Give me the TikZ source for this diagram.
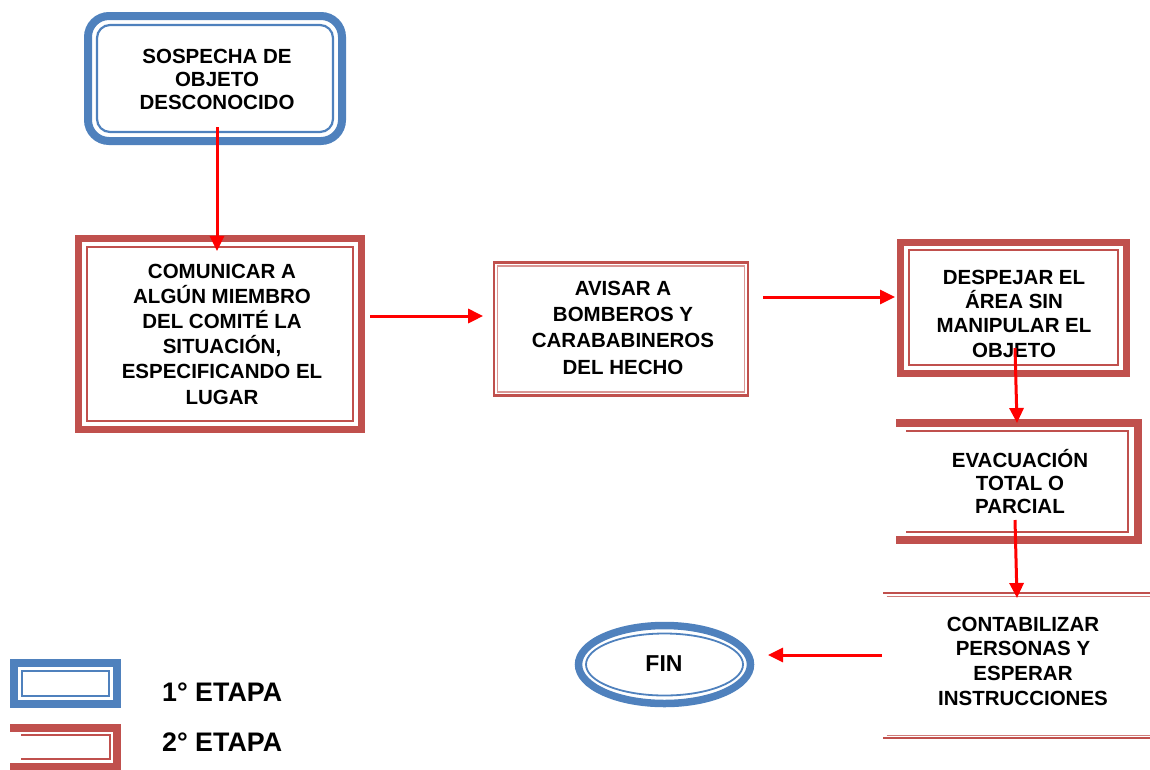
\documentclass[tikz,border=0pt]{standalone}
\usepackage{fontspec}
\setmainfont{Liberation Sans}
\usetikzlibrary{arrows.meta,shapes.geometric}
\definecolor{bblue}{HTML}{4F81BD}
\definecolor{rred}{HTML}{C0504D}
\definecolor{arrred}{HTML}{FF0000}
\tikzset{
  lbl/.style={font=\fontsize{20.5}{#1}\selectfont\bfseries, align=center, inner sep=0pt},
  legtxt/.style={font=\fontsize{26.8}{30}\selectfont\bfseries, inner sep=0pt, anchor=west},
  arr/.style={draw=arrred, line width=3pt, -{Triangle[length=15pt,width=14pt]}},
  shp/.style={inner sep=0pt, outer sep=0pt},
  innerrect/.style 2 args={path picture={\draw[#1, line width=2pt]
      ([shift={(#2,-#2)}]path picture bounding box.north west) rectangle
      ([shift={(-#2,#2)}]path picture bounding box.south east);}},
}
\begin{document}
\begin{tikzpicture}[x=1pt,y=-1pt]
\useasboundingbox (0,0) rectangle (1150,769);

% stage 1 box
\node[shp, draw=bblue, line width=8pt, rounded corners=21pt,
      minimum width=254pt, minimum height=125pt,
      path picture={\draw[bblue, line width=2.2pt, rounded corners=13pt]
        ([shift={(9pt,-9pt)}]path picture bounding box.north west) rectangle
        ([shift={(-9pt,9pt)}]path picture bounding box.south east);}]
  (n1) at (215,78.5) {};
\node[lbl=23pt] (t1) at (217,79) {SOSPECHA DE\\OBJETO\\DESCONOCIDO};

% COMUNICAR
\node[shp, draw=rred, line width=7.3pt, minimum width=282.6pt, minimum height=190.6pt,
      innerrect={rred}{8pt}] (n2) at (220,334) {};
\node[lbl=25.2pt] (t2) at (222,334) {COMUNICAR A\\ALGÚN MIEMBRO\\DEL COMITÉ LA\\SITUACIÓN,\\ESPECIFICANDO EL\\LUGAR};

% AVISAR
\node[shp, draw=rred, line width=2.5pt, minimum width=253.7pt, minimum height=133.4pt,
      path picture={\draw[rred!60, line width=1.5pt]
        ([shift={(3.5pt,-3.5pt)}]path picture bounding box.north west) rectangle
        ([shift={(-3.5pt,3.5pt)}]path picture bounding box.south east);}]
  (n3) at (621,329) {};
\node[lbl=26.3pt] (t3) at (623,327.5) {AVISAR A\\BOMBEROS Y\\CARABABINEROS\\DEL HECHO};

% DESPEJAR
\node[shp, draw=rred, line width=7.3pt, minimum width=225.7pt, minimum height=131pt,
      innerrect={rred}{8pt}] (n4) at (1013.5,307.8) {};
\node[lbl=24.3pt] (t4) at (1014,313.5) {DESPEJAR EL\\ÁREA SIN\\MANIPULAR EL\\OBJETO};

% EVACUACION (open on the left)
\node[shp, minimum width=241.5pt, minimum height=117pt] (n5) at (1016.75,481.5) {};
\draw[rred, line width=8pt] (n5.north west) -- (n5.north east) -- (n5.south east) -- (n5.south west);
\draw[rred, line width=2pt] ([shift={(10pt,-8pt)}]n5.north west) -- ([shift={(-9.5pt,-8pt)}]n5.north east)
  -- ([shift={(-9.5pt,8pt)}]n5.south east) -- ([shift={(10pt,8pt)}]n5.south west);
\node[lbl=23pt] (t5) at (1020,482) {EVACUACIÓN\\TOTAL O\\PARCIAL};

% CONTABILIZAR (lines top and bottom)
\node[shp, minimum width=266.7pt, minimum height=145pt] (n6) at (1016.65,665.5) {};
\draw[rred, line width=2.7pt] (n6.north west) -- (n6.north east);
\draw[rred!75, line width=1pt] ([shift={(3.4pt,-3.5pt)}]n6.north west) -- ([yshift=-3.5pt]n6.north east);
\draw[rred, line width=2.7pt] (n6.south west) -- (n6.south east);
\draw[rred!75, line width=1pt] ([shift={(3.4pt,3pt)}]n6.south west) -- ([yshift=3pt]n6.south east);
\node[lbl=24.7pt] (t6) at (1023,661) {CONTABILIZAR\\PERSONAS Y\\ESPERAR\\INSTRUCCIONES};

% FIN
\node[shp, ellipse, draw=bblue, line width=7.5pt, minimum width=172pt, minimum height=78pt,
      path picture={\draw[bblue, line width=1.8pt] (path picture bounding box.center)
        ellipse [x radius=78.5pt, y radius=31pt];}]
  (n7) at (664.5,664.5) {};
\node[font=\fontsize{23}{27}\selectfont\bfseries, inner sep=0pt] (t7) at (664,664) {FIN};

% connectors
\draw[arr] ([shift={(2pt,14pt)}]n1.south) -- ([shift={(-3pt,-12.3pt)}]n2.north);
\draw[arr] ([shift={(8.7pt,18pt)}]n2.east) -- ([shift={(-11pt,13pt)}]n3.west);
\draw[arr] ([shift={(15.3pt,32pt)}]n3.east) -- ([shift={(-5.6pt,10.8pt)}]n4.west);
\draw[arr] ([shift={(1.5pt,25.3pt)}]n4.south) -- ([shift={(0.25pt,0pt)}]n5.north);
\draw[arr] ([shift={(-1.75pt,20pt)}]n5.south) -- ([shift={(0.35pt,-5pt)}]n6.north);
\draw[arr] ([shift={(-1.3pt,10.5pt)}]n6.west) -- ([shift={(17.5pt,9.5pt)}]n7.east);

% legend
\node[shp, draw=bblue, line width=8pt, minimum width=103pt, minimum height=41pt,
      path picture={\draw[bblue, line width=2.3pt]
        ([shift={(8pt,-8pt)}]path picture bounding box.north west) rectangle
        ([shift={(-8pt,8pt)}]path picture bounding box.south east);}]
  (l1) at (65.5,683.5) {};
\node[shp, minimum width=107pt, minimum height=38.5pt] (l2) at (63.5,747.25) {};
\draw[rred, line width=8pt] (l2.north west) -- (l2.north east) -- (l2.south east) -- (l2.south west);
\draw[rred, line width=2pt] ([shift={(11pt,-7pt)}]l2.north west) -- ([shift={(-7pt,-7pt)}]l2.north east)
  -- ([shift={(-7pt,7.2pt)}]l2.south east) -- ([shift={(11pt,7.2pt)}]l2.south west);
\node[legtxt] (lt1) at (162,692.3) {1° ETAPA};
\node[legtxt] (lt2) at (162,742) {2° ETAPA};
\end{tikzpicture}
\end{document}
